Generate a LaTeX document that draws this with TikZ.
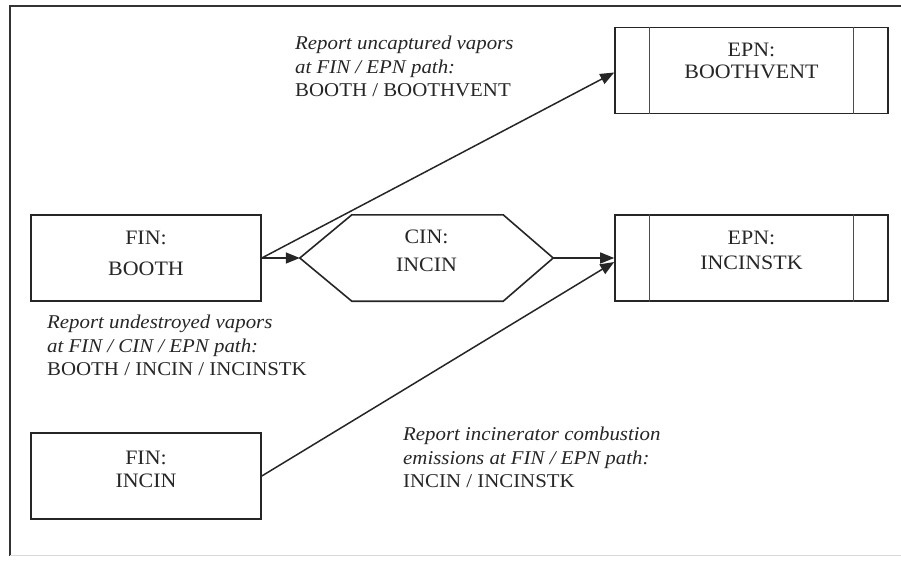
\documentclass[tikz,border=0pt]{standalone}
\usepackage{fontspec}
\setmainfont{Liberation Serif}[FakeStretch=1.07]
\usetikzlibrary{arrows.meta,calc}
\begin{document}
\begin{tikzpicture}[x=1pt,y=-1pt,
  box/.style={draw=black!85, line width=1.6pt, minimum width=230pt, minimum height=86pt, inner sep=0pt},
  ebox/.style={draw=black!85, line width=1.6pt, minimum width=273pt, minimum height=86pt, inner sep=0pt},
  inner/.style={draw=black!70, line width=1pt},
  txt/.style={font=\fontsize{20.5}{23}\selectfont, text=black!85, inner sep=0pt, align=center},
  lbl/.style={font=\fontsize{19.5}{23.3}\selectfont, text=black!85, inner sep=0pt, align=left, anchor=north west},
  arr/.style={draw=black!85, line width=1.5pt, -{Triangle[length=14pt,width=11pt]}},
]
\useasboundingbox (0,0) rectangle (901,560);
% frame
\draw[line width=1.6pt, black!80] (901,6) -- (10,6) -- (10,556);
\draw[line width=0.8pt, black!15] (10,555.5) -- (901,555.5);

% boxes
\node[box] (fb) at (146,258) {};
\node[box] (fi) at (146,476) {};
\node[ebox] (e1) at (751.5,70.5) {};
\node[ebox] (e2) at (751.5,258) {};
\node[minimum width=253pt, minimum height=86pt, inner sep=0pt] (cin) at (426.5,258) {};
\draw[line width=1.6pt, black!85, line join=miter]
  (cin.west) -- ([xshift=52pt]cin.north west) -- ([xshift=-50pt]cin.north east)
  -- (cin.east) -- ([xshift=-50pt]cin.south east) -- ([xshift=52pt]cin.south west) -- cycle;

\draw[inner] ([xshift=35pt]e1.north west) -- ([xshift=35pt]e1.south west);
\draw[inner] ([xshift=-35pt]e1.north east) -- ([xshift=-35pt]e1.south east);
\draw[inner] ([xshift=35pt]e2.north west) -- ([xshift=35pt]e2.south west);
\draw[inner] ([xshift=-35pt]e2.north east) -- ([xshift=-35pt]e2.south east);

% box texts
\node[txt, anchor=north] (fbt) at (146,231) {FIN:\\[8pt]BOOTH};
\node[txt, anchor=north] (cint) at (426.5,230) {CIN:\\[5pt]INCIN};
\node[txt, anchor=north] (e1t) at (751.5,43) {EPN:\\[-1pt]BOOTHVENT};
\node[txt, anchor=north] (e2t) at (751.5,231) {EPN:\\[2pt]INCINSTK};
\node[txt, anchor=north] (fit) at (146,451) {FIN:\\INCIN};

% labels
\node[lbl] (l1) at (295,36) {\textit{Report uncaptured vapors}\\\textit{at FIN / EPN path:}\\BOOTH / BOOTHVENT};
\node[lbl] (l2) at (47,315) {\textit{Report undestroyed vapors}\\\textit{at FIN / CIN / EPN path:}\\BOOTH / INCIN / INCINSTK};
\node[lbl] (l3) at (403,427) {\textit{Report incinerator combustion}\\\textit{emissions at FIN / EPN path:}\\INCIN / INCINSTK};

% connectors
\draw[arr] (fb.east) -- (cin.west);
\draw[arr] (fb.east) -- ([yshift=-2pt]e1.west);
\draw[arr] (cin.east) -- (e2.west);
\draw[arr] (fi.east) -- ([yshift=-4pt]e2.west);
\end{tikzpicture}
\end{document}
